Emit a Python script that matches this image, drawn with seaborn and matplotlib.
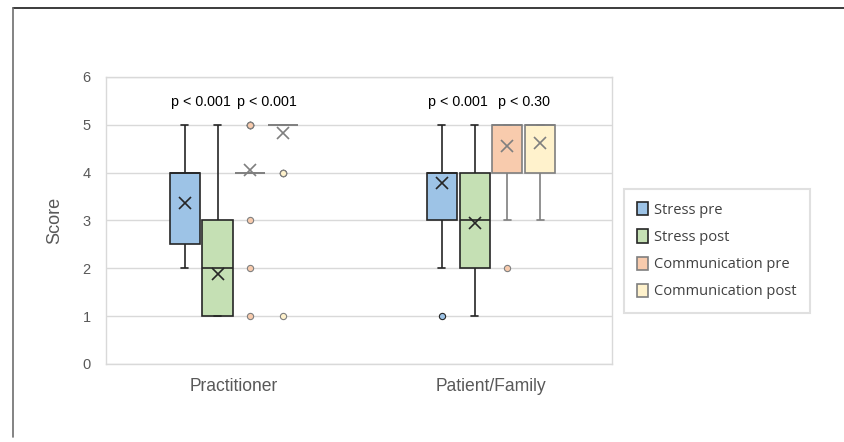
import numpy as np
import pandas as pd
import seaborn as sns
import matplotlib.pyplot as plt
from matplotlib import font_manager
from matplotlib.patches import Patch
from matplotlib.lines import Line2D

scores = [1, 2, 3, 4, 5]
groups = ["Practitioner", "Patient/Family"]
measures = ["Stress pre", "Stress post", "Communication pre", "Communication post"]

prac_stress_pre = [0, 3, 2, 5, 1]
prac_stress_post = [15, 7, 8, 0, 1]
prac_comm_pre = [1, 1, 1, 29, 8]
prac_comm_post = [1, 0, 0, 5, 44]
pat_stress_pre = [1, 2, 6, 16, 6]
pat_stress_post = [3, 5, 4, 6, 2]
pat_comm_pre = [0, 1, 1, 13, 25]
pat_comm_post = [0, 0, 1, 13, 26]

p_labels = {
    "Practitioner": ["p < 0.001", "p < 0.001"],
    "Patient/Family": ["p < 0.001", "p < 0.30"],
}

colors = ["#9DC3E6", "#C5E0B4", "#F8CBAD", "#FFF2CC"]
edge_dark = "#262626"
edge_gray = "#7F7F7F"

counts = {
    ("Practitioner", "Stress pre"): prac_stress_pre,
    ("Practitioner", "Stress post"): prac_stress_post,
    ("Practitioner", "Communication pre"): prac_comm_pre,
    ("Practitioner", "Communication post"): prac_comm_post,
    ("Patient/Family", "Stress pre"): pat_stress_pre,
    ("Patient/Family", "Stress post"): pat_stress_post,
    ("Patient/Family", "Communication pre"): pat_comm_pre,
    ("Patient/Family", "Communication post"): pat_comm_post,
}
rows = []
for (g, m), c in counts.items():
    for v in np.repeat(scores, c):
        rows.append({"group": g, "measure": m, "score": v})
df = pd.DataFrame(rows)

names = {f.name for f in font_manager.fontManager.ttflist}
narrow = "Liberation Sans Narrow" in names
main_font = "Liberation Sans Narrow" if narrow else "Liberation Sans"
k = 1.0 if narrow else 0.87  # shrink regular font to keep the narrow widths

sns.set_style("white")
plt.rcParams["font.family"] = [main_font, "DejaVu Sans"]

fig = plt.figure(figsize=(8.45, 4.42), dpi=100)
ax = fig.add_axes([0.1254, 0.1765, 0.5989, 0.6493])

width = 0.51
palette = dict(zip(measures, colors))
for subset, lc in [(measures[:2], edge_dark), (measures[2:], edge_gray)]:
    sns.boxplot(
        data=df[df["measure"].isin(subset)], x="group", y="score",
        hue="measure", order=groups, hue_order=measures, palette=palette,
        saturation=1, width=width, gap=0.08, linecolor=lc, linewidth=1.2,
        legend=False, showmeans=True,
        meanprops={"marker": "x", "markeredgecolor": lc, "markersize": 9,
                   "markeredgewidth": 1.2},
        flierprops={"marker": "o", "markersize": 4.5, "markeredgecolor": lc,
                    "markeredgewidth": 0.8},
        ax=ax,
    )

for cont in ax.containers:
    for box, fl in zip(cont.boxes, cont.fliers):
        fl.set_markerfacecolor(box.get_facecolor())
    for cap in cont.caps:
        xd = np.asarray(cap.get_xdata(), dtype=float)
        c = xd.mean()
        cap.set_xdata([c - 0.014, c + 0.014])

# p-value annotations above each pre/post pair
for i, g in enumerate(groups):
    for j, txt in enumerate(p_labels[g]):
        xpos = i + (j - 0.5) * width / 2
        ax.text(xpos, 5.48, txt, ha="center", va="center",
                fontsize=12 if narrow else 10.3, color="black")

ax.set_ylim(0, 6)
ax.set_xlim(-0.498, 1.471)
ax.set_yticks(range(0, 7))
ax.yaxis.grid(True, color="#D9D9D9", linewidth=1)
ax.set_axisbelow(True)
for s in ax.spines.values():
    s.set_visible(True)
    s.set_color("#D9D9D9")
    s.set_linewidth(1)
ax.tick_params(axis="both", length=0, colors="#595959")
ax.tick_params(axis="x", labelsize=14.5 * k, pad=10)
ax.tick_params(axis="y", labelsize=10.5, pad=11)
ax.set_xlabel("")
ax.set_ylabel("Score", fontsize=15 * k, color="#595959", labelpad=14)

handles = [
    Patch(facecolor=colors[n], edgecolor=edge_dark if n < 2 else edge_gray,
          linewidth=1.2, label=measures[n])
    for n in range(4)
]
leg = fig.legend(
    handles=handles, loc="upper left", bbox_to_anchor=(0.738, 0.572),
    bbox_transform=fig.transFigure, frameon=True, fancybox=False,
    handlelength=0.8, handleheight=1.0, handletextpad=0.4,
    labelspacing=0.8, borderpad=0.9, borderaxespad=0,
    prop={"family": ["Open Sans", "DejaVu Sans"], "size": 10.5},
)
leg.get_frame().set_edgecolor("#D9D9D9")
leg.get_frame().set_linewidth(1.5)
for t in leg.get_texts():
    t.set_color("#404040")

# partial outer frame of the original figure
fig.add_artist(Line2D([13 / 845, 1], [1 - 8 / 442, 1 - 8 / 442],
                      transform=fig.transFigure, color="#1A1A1A", linewidth=1.2))
fig.add_artist(Line2D([13 / 845, 13 / 845], [1 - 8 / 442, 1 - 437 / 442],
                      transform=fig.transFigure, color="#6E6E6E", linewidth=1.2))

fig.savefig("out.png", dpi=100)
